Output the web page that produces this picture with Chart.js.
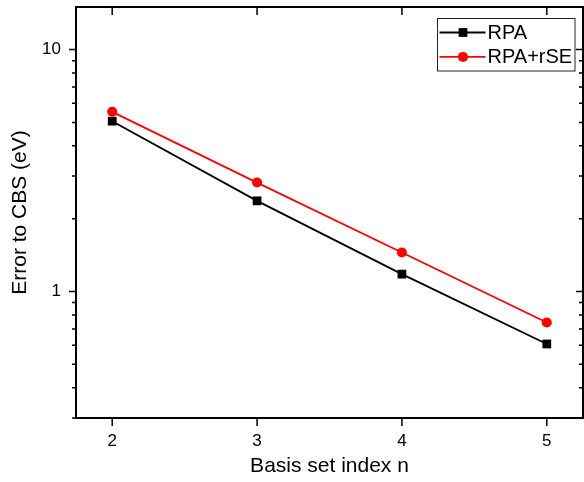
<!DOCTYPE html>
<html>
<head>
<meta charset="utf-8">
<script src="https://cdn.jsdelivr.net/npm/chart.js@4"></script>
<style>
  html, body { margin: 0; padding: 0; background: #fff; }
</style>
</head>
<body>
<canvas id="errChart" width="584" height="482"></canvas>
<script>
// basis set index n vs. error to CBS (eV)
const basisIndex = [2, 3, 4, 5];
const rpaError = [5.06, 2.37, 1.18, 0.607];
const rpaRseError = [5.53, 2.82, 1.45, 0.745];

const xTicks = [2, 3, 4, 5];
const yMajorTicks = [1, 10];
const yMinorTicks = [0.3, 0.4, 0.5, 0.6, 0.7, 0.8, 0.9, 2, 3, 4, 5, 6, 7, 8, 9];

const FONT = "'Liberation Sans', Arial, Helvetica, sans-serif";

// closed box around the plot, with ticks on all four sides
const frame = {
  id: 'frame',
  afterDatasetsDraw(chart) {
    const {ctx, chartArea: a, scales: {x, y}} = chart;
    ctx.save();
    ctx.strokeStyle = '#000';
    ctx.lineWidth = 1.5;
    ctx.beginPath();
    xTicks.forEach(v => {
      const px = x.getPixelForValue(v);
      ctx.moveTo(px, a.bottom);
      ctx.lineTo(px, a.bottom + 8);
      ctx.moveTo(px, a.top);
      ctx.lineTo(px, a.top + 8);
    });
    yMajorTicks.concat(yMinorTicks).forEach(v => {
      const py = y.getPixelForValue(v);
      const len = yMajorTicks.includes(v) ? 7 : 4;
      ctx.moveTo(a.left - len, py);
      ctx.lineTo(a.left, py);
      ctx.moveTo(a.right - len, py);
      ctx.lineTo(a.right, py);
    });
    ctx.stroke();
    ctx.lineWidth = 2;
    ctx.strokeRect(a.left, a.top, a.right - a.left, a.bottom - a.top);
    ctx.restore();
  }
};

// legend in a framed box, line + marker per series
const boxLegend = {
  id: 'boxLegend',
  afterDraw(chart) {
    const {ctx, chartArea: a} = chart;
    const left = a.right - 145.5, top = a.top + 11.5, w = 137.5, h = 52.5;
    ctx.save();
    ctx.fillStyle = '#fff';
    ctx.fillRect(left, top, w, h);
    ctx.strokeStyle = '#222';
    ctx.lineWidth = 1;
    ctx.strokeRect(left, top, w, h);
    chart.data.datasets.forEach((ds, i) => {
      const cy = top + 14 + i * 24.4;
      ctx.strokeStyle = ds.borderColor;
      ctx.lineWidth = ds.borderWidth;
      ctx.beginPath();
      ctx.moveTo(left + 2, cy);
      ctx.lineTo(left + 48, cy);
      ctx.stroke();
      ctx.fillStyle = ds.backgroundColor;
      Chart.helpers.drawPoint(ctx, {pointStyle: ds.pointStyle, radius: ds.pointRadius, borderWidth: 0, rotation: 0}, left + 25.5, cy);
      ctx.fillStyle = '#000';
      ctx.font = '20px ' + FONT;
      ctx.textBaseline = 'middle';
      ctx.textAlign = 'left';
      ctx.fillText(ds.label, left + 50, cy + 1);
    });
    ctx.restore();
  }
};

new Chart(document.getElementById('errChart'), {
  type: 'line',
  data: {
    datasets: [
      {
        label: 'RPA',
        data: basisIndex.map((n, i) => ({x: n, y: rpaError[i]})),
        borderColor: '#000',
        backgroundColor: '#000',
        borderWidth: 1.8,
        pointStyle: 'rect',
        pointRadius: 6.2,
        pointBorderWidth: 0
      },
      {
        label: 'RPA+rSE',
        data: basisIndex.map((n, i) => ({x: n, y: rpaRseError[i]})),
        borderColor: '#ff0000',
        backgroundColor: '#ff0000',
        borderWidth: 1.8,
        pointStyle: 'circle',
        pointRadius: 5,
        pointBorderWidth: 0
      }
    ]
  },
  options: {
    responsive: false,
    animation: false,
    layout: {autoPadding: false, padding: {top: 7, right: 1, left: 0, bottom: 0}},
    plugins: {legend: {display: false}, tooltip: {enabled: false}},
    scales: {
      x: {
        type: 'linear',
        min: 1.75,
        max: 5.25,
        grid: {display: false, drawTicks: false},
        border: {display: false},
        afterBuildTicks: s => { s.ticks = xTicks.map(v => ({value: v})); },
        afterFit: s => { s.height = 64; s.paddingLeft = 0; s.paddingRight = 0; },
        ticks: {padding: 13, color: '#000', autoSkip: false, maxRotation: 0, font: {family: FONT, size: 17}},
        title: {display: true, text: 'Basis set index n', color: '#000', font: {family: FONT, size: 21}, padding: {top: 0, bottom: 3}}
      },
      y: {
        type: 'logarithmic',
        min: 0.3,
        max: 15,
        grid: {display: false, drawTicks: false},
        border: {display: false},
        afterBuildTicks: s => { s.ticks = yMinorTicks.concat(yMajorTicks).sort((p, q) => p - q).map(v => ({value: v})); },
        afterFit: s => { s.width = 76; s.paddingTop = 0; s.paddingBottom = 0; },
        ticks: {
          padding: 15,
          color: '#000',
          autoSkip: false,
          font: {family: FONT, size: 17},
          callback: v => yMajorTicks.includes(v) ? String(v) : ''
        },
        title: {display: true, text: 'Error to CBS (eV)', color: '#000', font: {family: FONT, size: 21}, padding: {top: 8, bottom: 0}}
      }
    }
  },
  plugins: [frame, boxLegend]
});
</script>
</body>
</html>
